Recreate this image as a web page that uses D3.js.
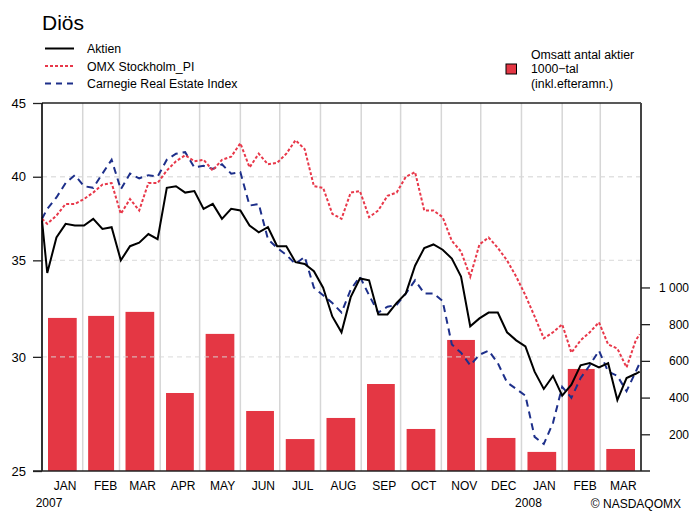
<!DOCTYPE html>
<html><head><meta charset="utf-8">
<script src="https://cdn.jsdelivr.net/npm/d3@7"></script>
<style>
body{margin:0;background:#fff;}
text{font-family:"Liberation Sans",Arial,sans-serif;fill:#000;}
</style></head>
<body><svg id="c" width="689" height="511"></svg>
<script>
const weekDates = ["2007-01-01","2007-01-05","2007-01-12","2007-01-19","2007-01-26","2007-02-02","2007-02-09","2007-02-16","2007-02-23",
"2007-03-02","2007-03-09","2007-03-16","2007-03-23","2007-03-30","2007-04-06","2007-04-13","2007-04-20","2007-04-27",
"2007-05-04","2007-05-11","2007-05-18","2007-05-25","2007-06-01","2007-06-08","2007-06-15","2007-06-22","2007-06-29",
"2007-07-06","2007-07-13","2007-07-20","2007-07-27","2007-08-03","2007-08-10","2007-08-17","2007-08-24","2007-08-31",
"2007-09-07","2007-09-14","2007-09-21","2007-09-28","2007-10-05","2007-10-12","2007-10-19","2007-10-26",
"2007-11-02","2007-11-09","2007-11-16","2007-11-23","2007-11-30","2007-12-07","2007-12-14","2007-12-21","2007-12-28",
"2008-01-04","2008-01-11","2008-01-18","2008-01-25","2008-02-01","2008-02-08","2008-02-15","2008-02-22","2008-02-29",
"2008-03-07","2008-03-14","2008-03-21","2008-03-28","2008-03-31"];
const aktien = [37.3,34.3,36.3,37.1,37.0,37.0,37.4,36.8,36.9,35.0,35.8,36.0,36.5,36.2,39.3,39.4,39.0,39.1,38.0,38.3,37.4,38.0,37.9,37.0,36.6,36.9,35.8,35.8,34.9,34.8,34.4,33.5,32.0,31.2,33.0,34.0,33.9,32.1,32.1,32.7,33.2,34.7,35.7,35.9,35.6,35.1,34.1,31.5,31.9,32.2,32.2,31.2,30.8,30.5,29.3,28.5,29.1,28.2,28.7,29.6,29.7,29.5,29.7,28.0,29.0,29.2,29.3];
const omx = [37.4,37.1,37.6,38.3,38.3,38.6,39.0,39.5,39.6,37.7,38.6,37.9,39.6,39.6,40.4,41.0,41.4,41.0,41.1,40.4,41.1,41.3,42.2,40.6,41.5,40.8,40.9,41.5,42.4,41.8,39.4,39.3,37.7,37.4,39.0,39.1,37.5,37.9,38.8,39.0,40.0,40.3,37.9,37.9,37.5,36.1,35.5,34.1,35.9,36.3,35.7,35.0,34.1,33.1,32.0,30.9,31.2,31.6,30.2,30.8,31.2,31.7,30.6,30.4,29.5,30.8,31.1];
const carnegie = [37.4,38.0,38.7,39.6,40.1,39.4,39.3,40.2,41.1,39.2,40.2,39.9,40.1,40.0,41.1,41.5,41.6,40.6,40.7,40.5,40.8,40.2,40.3,38.2,38.3,36.2,35.7,35.3,34.8,35.2,33.5,33.1,32.7,32.2,33.4,34.1,33.1,32.2,32.5,32.6,33.2,33.9,33.2,33.2,32.8,30.6,30.2,29.6,30.1,30.3,29.7,28.8,28.5,28.2,26.4,26.1,27.0,28.6,28.1,29.0,29.6,30.3,29.3,29.1,28.4,29.3,29.7];
const months = ["2007-01","2007-02","2007-03","2007-04","2007-05","2007-06","2007-07","2007-08","2007-09","2007-10","2007-11","2007-12","2008-01","2008-02","2008-03"];
const monthLabels = ["JAN","FEB","MAR","APR","MAY","JUN","JUL","AUG","SEP","OCT","NOV","DEC","JAN","FEB","MAR"];
const volume = [834,845,867,425,747,327,174,289,474,229,714,180,104,556,120];
const leftTicks = [25,30,35,40,45];
const rightTicks = [200,400,600,800,1000];
const yearLabels = [{m:"2007-01",t:"2007"},{m:"2008-01",t:"2008"}];

const svg = d3.select("#c");
const L=42, R=641, T=103, B=471;
const parse = d3.timeParse("%Y-%m-%d");
const parseM = d3.timeParse("%Y-%m");
const x = d3.scaleTime().domain([parse("2007-01-01"), parse("2008-04-01")]).range([L,R]);
const yL = d3.scaleLog().domain([25,45]).range([B,T]);
const yR = d3.scaleLinear().domain([0,2005]).range([B,T]);

// vertical month gridlines
const bounds = d3.timeMonth.range(parse("2007-02-01"), parse("2008-04-01"));
svg.append("g").selectAll("line").data(bounds).join("line")
  .attr("x1",d=>x(d)).attr("x2",d=>x(d)).attr("y1",T).attr("y2",B)
  .attr("stroke","#d6d6d6").attr("stroke-width",1.5);

// bars
svg.append("g").selectAll("rect").data(months).join("rect")
  .each(function(m,i){
    const s=parseM(m), e=d3.timeMonth.offset(s,1);
    const x0=x(s), x1=x(e), w=(x1-x0)*0.705;
    d3.select(this).attr("x",(x0+x1)/2-w/2).attr("width",w)
      .attr("y",yR(volume[i])).attr("height",B-yR(volume[i]));
  })
  .attr("fill","#e43744");

// horizontal dashed gridlines
svg.append("g").selectAll("line").data([30,35,40]).join("line")
  .attr("x1",L).attr("x2",R).attr("y1",d=>yL(d)).attr("y2",d=>yL(d))
  .attr("stroke","rgba(215,215,215,0.75)").attr("stroke-width",1.3).attr("stroke-dasharray","5,4");

// lines
const dts = weekDates.map(parse);
const line = vals => d3.line().x((d,i)=>x(dts[i])).y(d=>yL(d))(vals);
svg.append("path").attr("d",line(carnegie)).attr("fill","none").attr("stroke","#1d2f8a")
  .attr("stroke-width",2).attr("stroke-dasharray","7,5");
svg.append("path").attr("d",line(omx)).attr("fill","none").attr("stroke","#e8384a")
  .attr("stroke-width",2).attr("stroke-dasharray","3,2");
svg.append("path").attr("d",line(aktien)).attr("fill","none").attr("stroke","#000")
  .attr("stroke-width",2).attr("stroke-linejoin","miter");

// frame
svg.append("line").attr("x1",L).attr("x2",R).attr("y1",T).attr("y2",T).attr("stroke","#222").attr("stroke-width",1.3);
svg.append("line").attr("x1",R).attr("x2",R).attr("y1",T).attr("y2",B).attr("stroke","#444").attr("stroke-width",2);
svg.append("line").attr("x1",L).attr("x2",L).attr("y1",T).attr("y2",B).attr("stroke","#000").attr("stroke-width",1.6);

// left axis
const gl = svg.append("g").attr("transform",`translate(${L},0)`)
  .call(d3.axisLeft(yL).tickValues(leftTicks).tickFormat(d3.format("d")).tickSize(9).tickPadding(7));
gl.select(".domain").remove();
gl.selectAll(".tick line").attr("stroke","#222").attr("stroke-width",1.3);
gl.selectAll(".tick text").style("font-size","13px").style("font-family","Liberation Sans, Arial").attr("fill","#000");

// right axis
const fmtR = d => d3.format(",")(d).replace(",", " ");
const gr = svg.append("g").attr("transform",`translate(${R},0)`)
  .call(d3.axisRight(yR).tickValues(rightTicks).tickFormat(fmtR).tickSize(9).tickPadding(0));
gr.select(".domain").remove();
gr.selectAll(".tick line").attr("stroke","#222").attr("stroke-width",1.3);
gr.selectAll(".tick text").attr("x",48).attr("text-anchor","end")
  .style("font-size","12px").style("font-family","Liberation Sans, Arial").attr("fill","#000");

// bottom axis line
svg.append("line").attr("x1",L-9).attr("x2",R+9).attr("y1",B).attr("y2",B).attr("stroke","#222").attr("stroke-width",1.3);

// month labels (placed about 17.5 days into each month)
svg.append("g").selectAll("text").data(months).join("text")
  .attr("x",m=>x(d3.timeHour.offset(parseM(m),420)))
  .attr("y",490).attr("text-anchor","middle").style("font-size","12px").text((m,i)=>monthLabels[i]);
svg.append("g").selectAll("text").data(yearLabels).join("text")
  .attr("x",d=>{const s=parseM(d.m);return (x(s)+x(d3.timeMonth.offset(s,1)))/2;})
  .attr("y",507).attr("text-anchor","end").style("font-size","12px").text(d=>d.t);
svg.append("text").attr("x",681).attr("y",508).attr("text-anchor","end").style("font-size","12px").text("© NASDAQOMX");

// title
svg.append("text").attr("x",42).attr("y",30).style("font-size","21px").text("Diös");

// legend left
const leg = [{t:"Aktien",c:"#000",d:null},{t:"OMX Stockholm_PI",c:"#e8384a",d:"3,2"},{t:"Carnegie Real Estate Index",c:"#1d2f8a",d:"6,5"}];
const lg = svg.append("g");
leg.forEach((l,i)=>{
  const yy = 48.5 + i*17.5;
  const ln = lg.append("line").attr("x1",45).attr("x2",74).attr("y1",yy).attr("y2",yy).attr("stroke",l.c).attr("stroke-width",2);
  if(l.d) ln.attr("stroke-dasharray",l.d);
  lg.append("text").attr("x",87).attr("y",yy+4.5).style("font-size","12.3px").text(l.t);
});
// legend right
svg.append("rect").attr("x",506).attr("y",64).attr("width",10.5).attr("height",10).attr("fill","#e43744").attr("stroke","#000").attr("stroke-width",1);
["Omsatt antal aktier","1000\u2212tal","(inkl.efteramn.)"].forEach((t,i)=>{
  svg.append("text").attr("x",531).attr("y",58.5+i*14.6).style("font-size","12.3px").text(t);
});
</script></body></html>
